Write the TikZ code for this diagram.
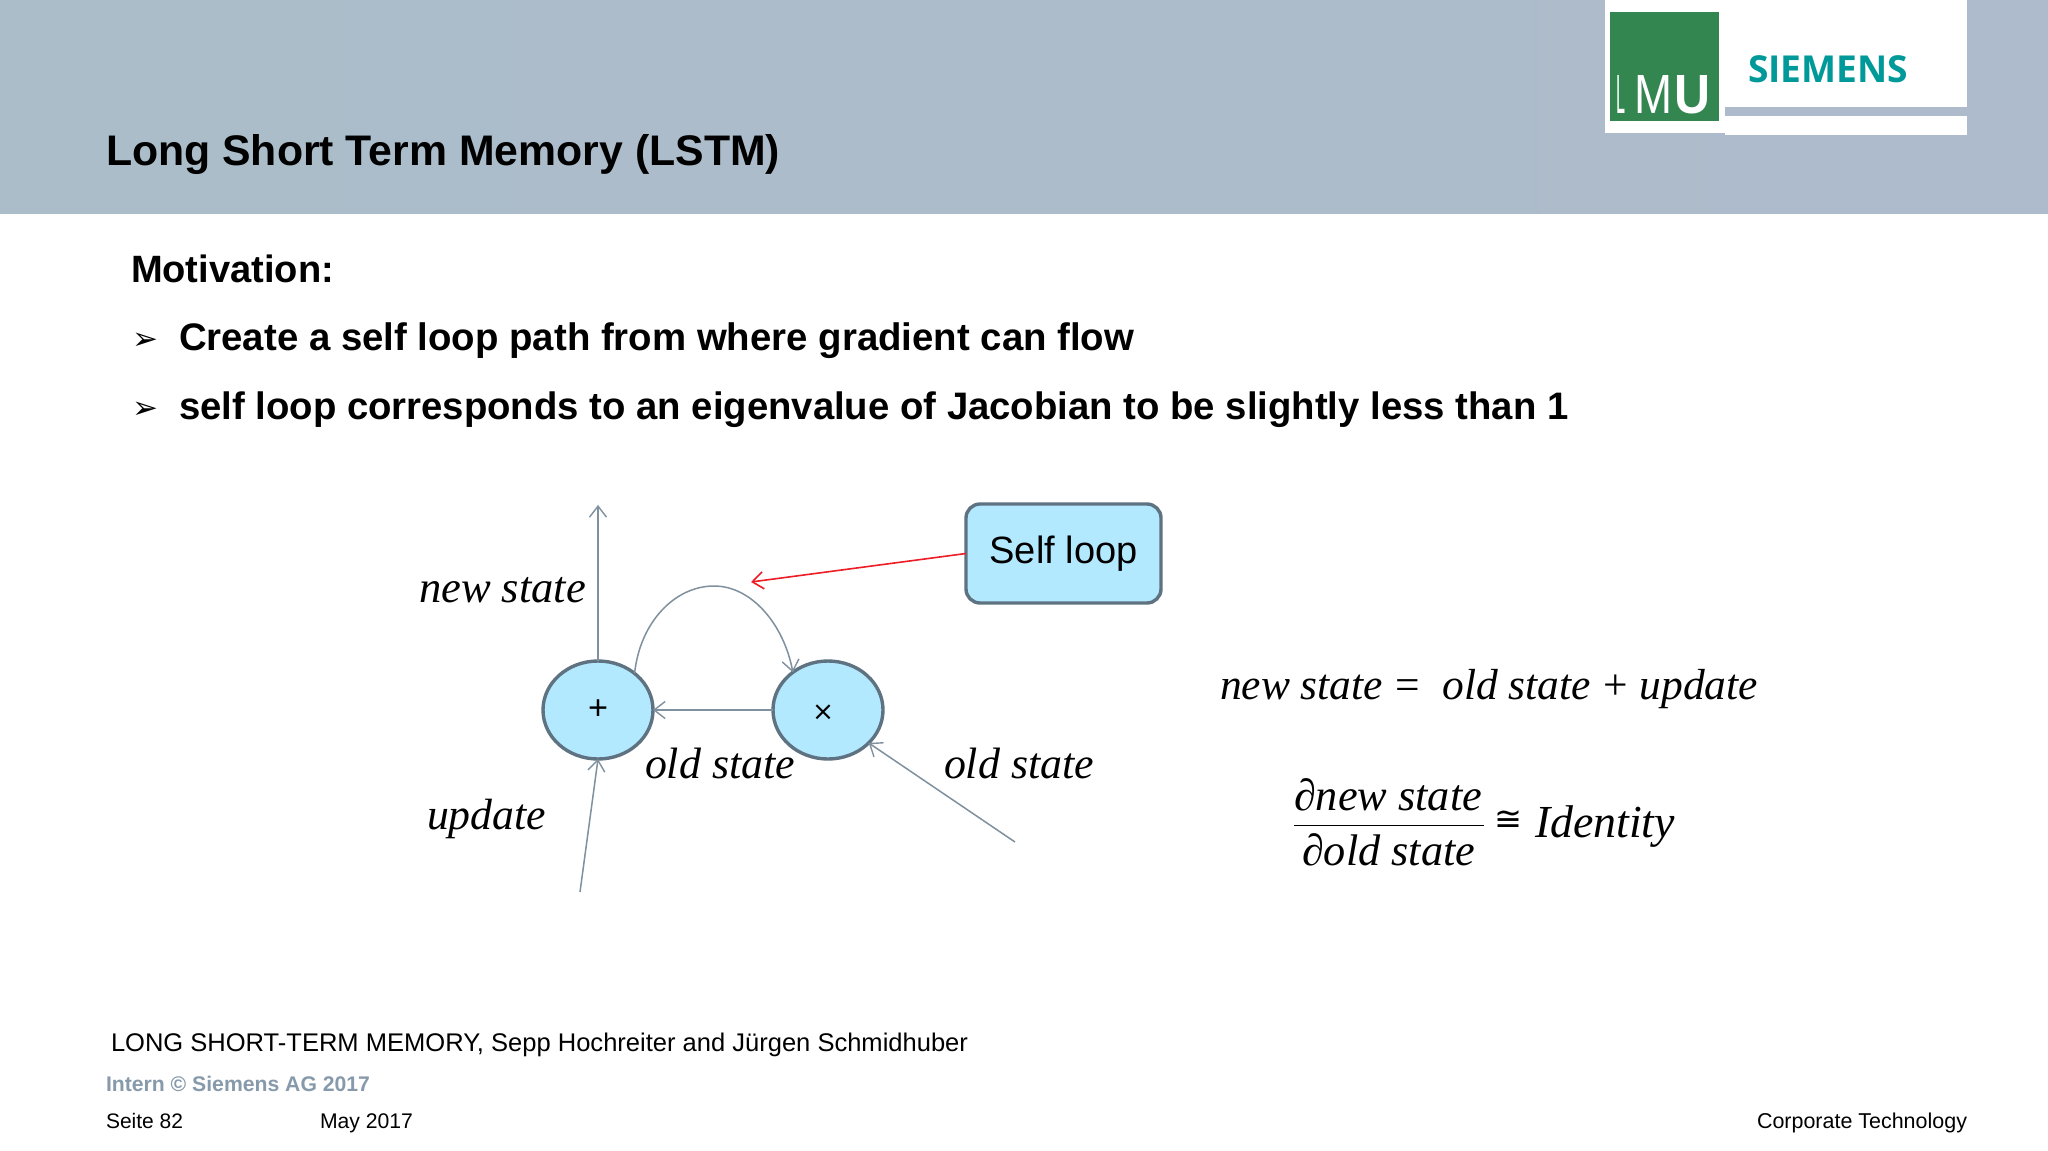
\documentclass[tikz,border=0pt]{standalone}
\usepackage{graphicx}
\usepackage{fontspec}
\setmainfont{Liberation Sans}
\newfontfamily\mathserif{Liberation Serif}
\newfontfamily\symfont{DejaVu Sans}
\newfontfamily\logofont{Open Sans}
\usetikzlibrary{shapes.geometric,arrows.meta}
\definecolor{hdrL}{HTML}{ABBDC9}
\definecolor{hdrR}{HTML}{ADBBCC}
\definecolor{nodefill}{HTML}{B3E9FF}
\definecolor{nodeline}{HTML}{5F7282}
\definecolor{wire}{HTML}{7F909E}
\definecolor{lmugreen}{HTML}{348651}
\definecolor{siemteal}{HTML}{009999}
\definecolor{interngray}{HTML}{879AAB}
\definecolor{selfred}{HTML}{EE1C25}
\tikzset{
  lbl/.style={inner sep=0pt,outer sep=0pt,anchor=base west},
  lblr/.style={inner sep=0pt,outer sep=0pt,anchor=base east},
  opnode/.style={ellipse,draw=nodeline,fill=nodefill,line width=3.4pt,minimum width=110pt,minimum height=98pt,inner sep=0pt,outer sep=0pt},
  wirearrow/.style={draw=wire,line width=1.5pt,-{Straight Barb[length=11pt,width=17pt,line width=1.4pt]}},
  redarrow/.style={draw=selfred,line width=1.6pt,-{Straight Barb[length=11pt,width=17pt,line width=1.6pt]}},
}
\newcommand{\fittext}[4]{\node[lbl] (#1) at (#2) {\resizebox{#3pt}{!}{#4}};}
\newcommand{\ittx}[1]{{\mathserif\itshape #1}}
\begin{document}
\begin{tikzpicture}[x=1pt,y=-1pt]
\useasboundingbox (0,0) rectangle (2048,1151);
\fill[white] (0,0) rectangle (2048,1151);
% header
\shade[left color=hdrL,right color=hdrR] (0,0) rectangle (2048,213);
\fill[white] (1605,0) rectangle (1725,133);
\fill[white] (1725,0) rectangle (1967,107);
\fill[white] (1725,116) rectangle (1967,135);
\fill[lmugreen] (1609.5,11.5) rectangle (1719,120.5);
\node[inner sep=0pt,anchor=base west,text=white] (lmuL) at (1616.5,113) {\resizebox{9pt}{38pt}{L}};
\node[inner sep=0pt,anchor=base west,text=white] (lmuM) at (1634,113) {\resizebox{38pt}{38pt}{M}};
\node[inner sep=0pt,anchor=base west,text=white] (lmuU) at (1674,113.5) {\resizebox{36pt}{38pt}{\bfseries U}};
\node[inner sep=0pt,anchor=base west,text=siemteal] (siemens) at (1748,82) {\resizebox{160pt}{!}{\logofont\bfseries SIEMENS}};
\fittext{title}{106,165}{674}{\bfseries Long Short Term Memory (LSTM)}
% text
\fittext{motiv}{131,282}{203}{\bfseries Motivation:}
\fittext{bull1}{132,349}{26}{\symfont ➢}
\fittext{line1}{179,350}{955}{\bfseries Create a self loop path from where gradient can flow}
\fittext{bull2}{132,418}{26}{\symfont ➢}
\fittext{line2}{179,419}{1389}{\bfseries self loop corresponds to an eigenvalue of Jacobian to be slightly less than 1}
% diagram
\node[opnode] (plus) at (598,710) {\resizebox{20pt}{!}{+}};
\node[opnode] (times) at (828,710) {};
\node[inner sep=0pt] (timessign) at (823,713) {\resizebox{22pt}{!}{\symfont ×}};
\node[draw=nodeline,fill=nodefill,line width=3.4pt,rounded corners=14pt,minimum width=195pt,minimum height=99pt,inner sep=0pt,outer sep=0pt] (selfloop) at (1063.5,553.5) {\resizebox{148pt}{!}{Self loop}};
\coordinate (newend) at (598,505);
\coordinate (updstart) at (580,892);
\coordinate (oldstart) at (1015,842);
\coordinate (redend) at (751,582);
\coordinate (looptop) at (714,586);
\draw[wirearrow] (plus.north) -- (newend);
\draw[wirearrow] (updstart) -- (plus.south);
\draw[wirearrow] (oldstart) -- (times.-39);
\draw[wirearrow] (times.west) -- (plus.east);
\draw[draw=wire,line width=1.5pt] (plus.45) .. controls (640,622) and (675,586) .. (looptop);
\draw[wirearrow] (looptop) .. controls (752,586) and (784,625) .. (times.133);
\draw[redarrow] (selfloop.west) -- (redend);
\fittext{lnew}{419,602}{167}{\ittx{new state}}
\fittext{lold1}{645,778}{150}{\ittx{old state}}
\fittext{lold2}{944,778}{150}{\ittx{old state}}
\fittext{lupd}{427,829}{119}{\ittx{update}}
% equations
\fittext{eq1}{1220,699}{538}{\ittx{new state} {\mathserif = } \ittx{old state} {\mathserif +} \ittx{update}}
\fittext{num}{1294,810}{188}{\ittx{∂new state}}
\fittext{den}{1302,865}{173}{\ittx{∂old state}}
\coordinate (barL) at (1294,825.5);
\coordinate (barR) at (1484,825.5);
\draw[line width=1.8pt,black] (barL) -- (barR);
\node[inner sep=0pt] (cong) at (1508,821) {\resizebox{28pt}{!}{\symfont ≅}};
\fittext{ident}{1535,837}{140}{\ittx{Identity}}
% footer
\fittext{ref}{111,1051}{857}{LONG SHORT-TERM MEMORY, Sepp Hochreiter and Jürgen Schmidhuber}
\node[lbl,text=interngray] (intern) at (106,1091) {\resizebox{264pt}{!}{\bfseries Intern © Siemens AG 2017}};
\fittext{seite}{106,1128}{77}{Seite 82}
\fittext{may}{320,1128}{93}{May 2017}
\node[lblr] (corp) at (1967,1128) {\resizebox{210pt}{!}{Corporate Technology}};
\end{tikzpicture}
\end{document}
